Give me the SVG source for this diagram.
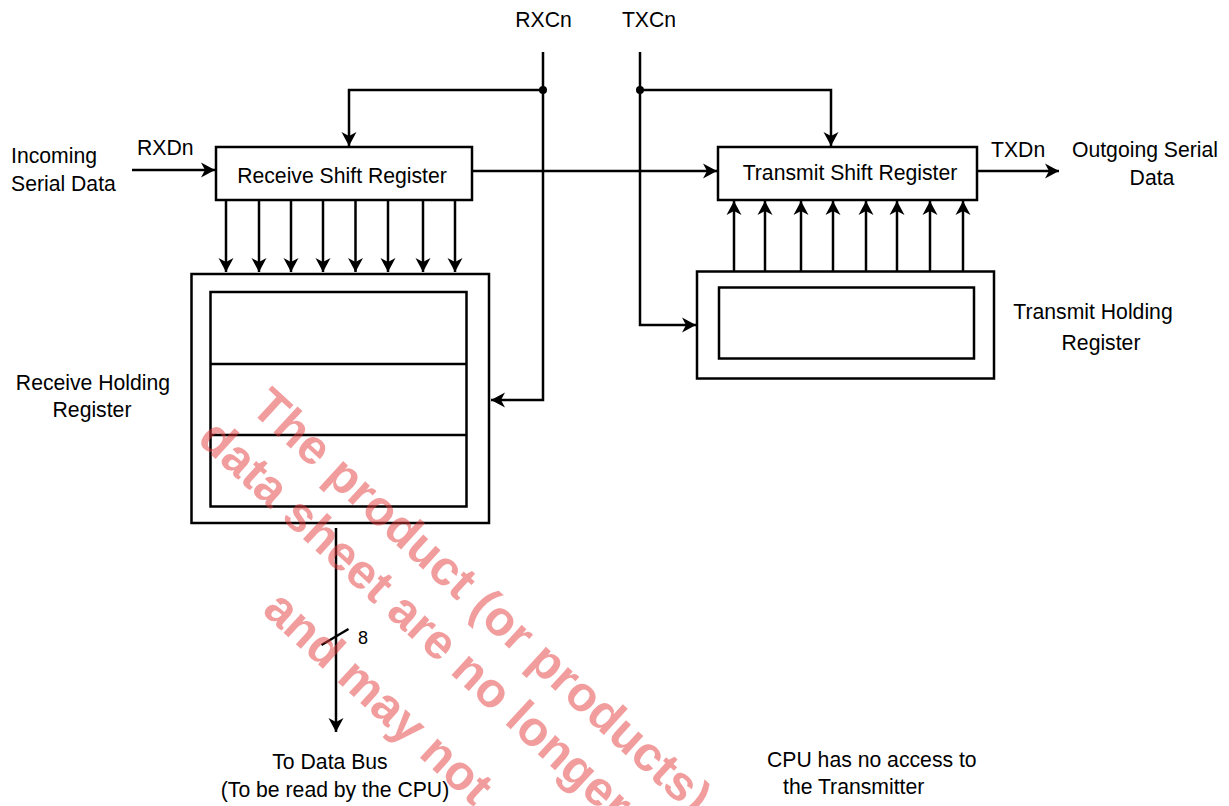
<svg xmlns="http://www.w3.org/2000/svg" width="1229" height="806" viewBox="0 0 1229 806">
<defs>
<style>
.t{font-family:"Liberation Sans",Arial,Helvetica,sans-serif;font-size:21.2px;fill:#000}
.c{text-anchor:middle}
.box{fill:#fff;stroke:#000;stroke-width:2.5}
.ln{fill:none;stroke:#000;stroke-width:2.5}
.ar{fill:none;stroke:#000;stroke-width:2.5;marker-end:url(#ah)}
.wm{font-family:"Liberation Sans",Arial,Helvetica,sans-serif;font-size:49px;font-weight:bold;fill:rgb(230,60,60);fill-opacity:0.5}
</style>
<marker id="ah" markerUnits="userSpaceOnUse" markerWidth="18" markerHeight="18" viewBox="-15 -9 17 18" refX="0" refY="0" orient="auto">
<path d="M0,0 L-14,-7.5 L-10,0 L-14,7.5 Z" fill="#000"/>
</marker>
</defs>
<rect width="1229" height="806" fill="#fff"/>

<g id="connectors">
<path class="ar" d="M543,52 V400 H491"/>
<path class="ar" d="M543,90 H349 V146"/>
<circle cx="543" cy="90" r="4" fill="#000"/>
<path class="ar" d="M640,52 V325 H696"/>
<path class="ar" d="M640,90 H831 V146"/>
<circle cx="640" cy="90" r="4" fill="#000"/>
<path class="ar" d="M132,170 H215"/>
<path class="ar" d="M472,171 H717"/>
<path class="ar" d="M977,171 H1059"/>
<g id="rx-bits">
<path class="ar" d="M226,200 V272"/>
<path class="ar" d="M259,200 V272"/>
<path class="ar" d="M291,200 V272"/>
<path class="ar" d="M323,200 V272"/>
<path class="ar" d="M355.5,200 V272"/>
<path class="ar" d="M388,200 V272"/>
<path class="ar" d="M423,200 V272"/>
<path class="ar" d="M455,200 V272"/>
</g>
<g id="tx-bits">
<path class="ar" d="M734,271 V201"/>
<path class="ar" d="M765,271 V201"/>
<path class="ar" d="M801,271 V201"/>
<path class="ar" d="M833,271 V201"/>
<path class="ar" d="M866,271 V201"/>
<path class="ar" d="M897,271 V201"/>
<path class="ar" d="M930,271 V201"/>
<path class="ar" d="M963,271 V201"/>
</g>
<path class="ar" d="M336,528 V732"/>
<path class="ln" d="M321.5,645 L348.5,629" stroke-width="2"/>
</g>

<g id="rsr">
<rect class="box" x="216" y="147" width="256" height="53"/>
<text class="t c" x="342" y="183">Receive Shift Register</text>
</g>
<g id="tsr">
<rect class="box" x="718" y="147" width="259" height="53"/>
<text class="t c" x="850" y="180">Transmit Shift Register</text>
</g>
<g id="rhr">
<rect class="box" x="191.5" y="274" width="297.5" height="249"/>
<rect class="box" x="210.5" y="292" width="256" height="214.5"/>
<path class="ln" d="M210.5,364 H466.5 M210.5,435 H466.5"/>
</g>
<g id="thr">
<rect class="box" x="697" y="271.5" width="297" height="107"/>
<rect class="box" x="719" y="287.5" width="255" height="71"/>
</g>

<g id="labels">
<text class="t c" x="543.5" y="27">RXCn</text>
<text class="t c" x="649" y="27">TXCn</text>
<text class="t" x="137" y="155">RXDn</text>
<text class="t" x="11" y="163">Incoming</text>
<text class="t" x="11" y="191">Serial Data</text>
<text class="t" x="991" y="157">TXDn</text>
<text class="t c" x="1145" y="157">Outgoing Serial</text>
<text class="t c" x="1152" y="185">Data</text>
<text class="t c" x="93" y="390">Receive Holding</text>
<text class="t c" x="92" y="417">Register</text>
<text class="t c" x="1093" y="319">Transmit Holding</text>
<text class="t c" x="1101" y="350">Register</text>
<text class="t" x="358" y="644" style="font-size:18px">8</text>
<text class="t c" x="330" y="769">To Data Bus</text>
<text class="t c" x="335" y="797">(To be read by the CPU)</text>
<text class="t" x="767" y="767">CPU has no access to</text>
<text class="t" x="783" y="794">the Transmitter</text>
</g>

<g id="watermark">
<text class="wm" transform="translate(249,410) rotate(42.5)">The product (or products)</text>
<text class="wm" transform="translate(196,441) rotate(42.5)">data sheet are no longer</text>
<text class="wm" transform="translate(261,612) rotate(42.5)">and may not</text>
</g>
</svg>
